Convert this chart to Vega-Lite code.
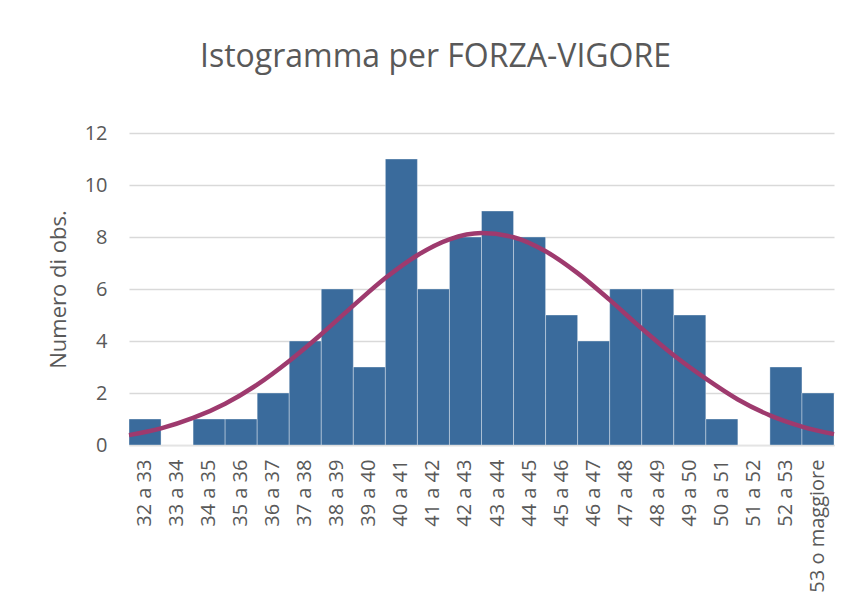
{
  "$schema": "https://vega.github.io/schema/vega-lite/v6.json",
  "width": 705,
  "height": 312,
  "autosize": "none",
  "padding": {"left": 129, "top": 133, "right": 19, "bottom": 167},
  "background": "#ffffff",
  "title": {
    "text": "Istogramma per FORZA-VIGORE",
    "font": "Open Sans",
    "fontSize": 32,
    "fontWeight": "normal",
    "color": "#595959",
    "anchor": "middle",
    "baseline": "alphabetic",
    "offset": 24,
    "dx": -46
  },
  "config": {
    "view": {"stroke": null},
    "font": "Open Sans"
  },
  "datasets": {
    "bins": [
      {"classe": "32 a 33", "n": 1},
      {"classe": "33 a 34", "n": 0},
      {"classe": "34 a 35", "n": 1},
      {"classe": "35 a 36", "n": 1},
      {"classe": "36 a 37", "n": 2},
      {"classe": "37 a 38", "n": 4},
      {"classe": "38 a 39", "n": 6},
      {"classe": "39 a 40", "n": 3},
      {"classe": "40 a 41", "n": 11},
      {"classe": "41 a 42", "n": 6},
      {"classe": "42 a 43", "n": 8},
      {"classe": "43 a 44", "n": 9},
      {"classe": "44 a 45", "n": 8},
      {"classe": "45 a 46", "n": 5},
      {"classe": "46 a 47", "n": 4},
      {"classe": "47 a 48", "n": 6},
      {"classe": "48 a 49", "n": 6},
      {"classe": "49 a 50", "n": 5},
      {"classe": "50 a 51", "n": 1},
      {"classe": "51 a 52", "n": 0},
      {"classe": "52 a 53", "n": 3},
      {"classe": "53 o maggiore", "n": 2}
    ],
    "curve": [
      {"pos": 0, "v": 0.38},
      {"pos": 1, "v": 0.64},
      {"pos": 2, "v": 1.04},
      {"pos": 3, "v": 1.59},
      {"pos": 4, "v": 2.32},
      {"pos": 5, "v": 3.23},
      {"pos": 6, "v": 4.26},
      {"pos": 7, "v": 5.36},
      {"pos": 8, "v": 6.42},
      {"pos": 9, "v": 7.30},
      {"pos": 10, "v": 7.91},
      {"pos": 11, "v": 8.15},
      {"pos": 12, "v": 7.99},
      {"pos": 13, "v": 7.45},
      {"pos": 14, "v": 6.61},
      {"pos": 15, "v": 5.58},
      {"pos": 16, "v": 4.48},
      {"pos": 17, "v": 3.45},
      {"pos": 18, "v": 2.55},
      {"pos": 19, "v": 1.75},
      {"pos": 20, "v": 1.14},
      {"pos": 21, "v": 0.71},
      {"pos": 22, "v": 0.42}
    ]
  },
  "layer": [
    {
      "data": {"name": "bins"},
      "mark": {"type": "bar", "color": "#3A6B9C", "stroke": "#ffffff", "strokeWidth": 0.6, "strokeOpacity": 0.6},
      "encoding": {
        "x": {
          "field": "classe",
          "type": "nominal",
          "sort": null,
          "scale": {"paddingInner": 0, "paddingOuter": 0},
          "axis": {
            "title": null,
            "labelAngle": -90,
            "labelFontSize": 20,
            "labelColor": "#595959",
            "labelPadding": 14,
            "ticks": false,
            "domainColor": "#D9D9D9",
            "domainWidth": 1.5
          }
        },
        "y": {
          "field": "n",
          "type": "quantitative",
          "scale": {"domain": [0, 12]},
          "axis": {
            "values": [0, 2, 4, 6, 8, 10, 12],
            "title": "Numero di obs.",
            "titleFontSize": 22,
            "titleFontWeight": "normal",
            "titleColor": "#595959",
            "titlePadding": 14,
            "labelFontSize": 20,
            "labelColor": "#595959",
            "labelPadding": 22,
            "ticks": false,
            "domain": false,
            "grid": true,
            "gridColor": "#D9D9D9",
            "gridWidth": 1.5
          }
        }
      }
    },
    {
      "data": {"name": "curve"},
      "mark": {"type": "line", "color": "#9E3A6E", "strokeWidth": 4.5, "interpolate": "monotone"},
      "encoding": {
        "x": {"field": "pos", "type": "quantitative", "scale": {"domain": [0, 22]}, "axis": null},
        "y": {"field": "v", "type": "quantitative"}
      }
    }
  ],
  "resolve": {"scale": {"x": "independent"}}
}
